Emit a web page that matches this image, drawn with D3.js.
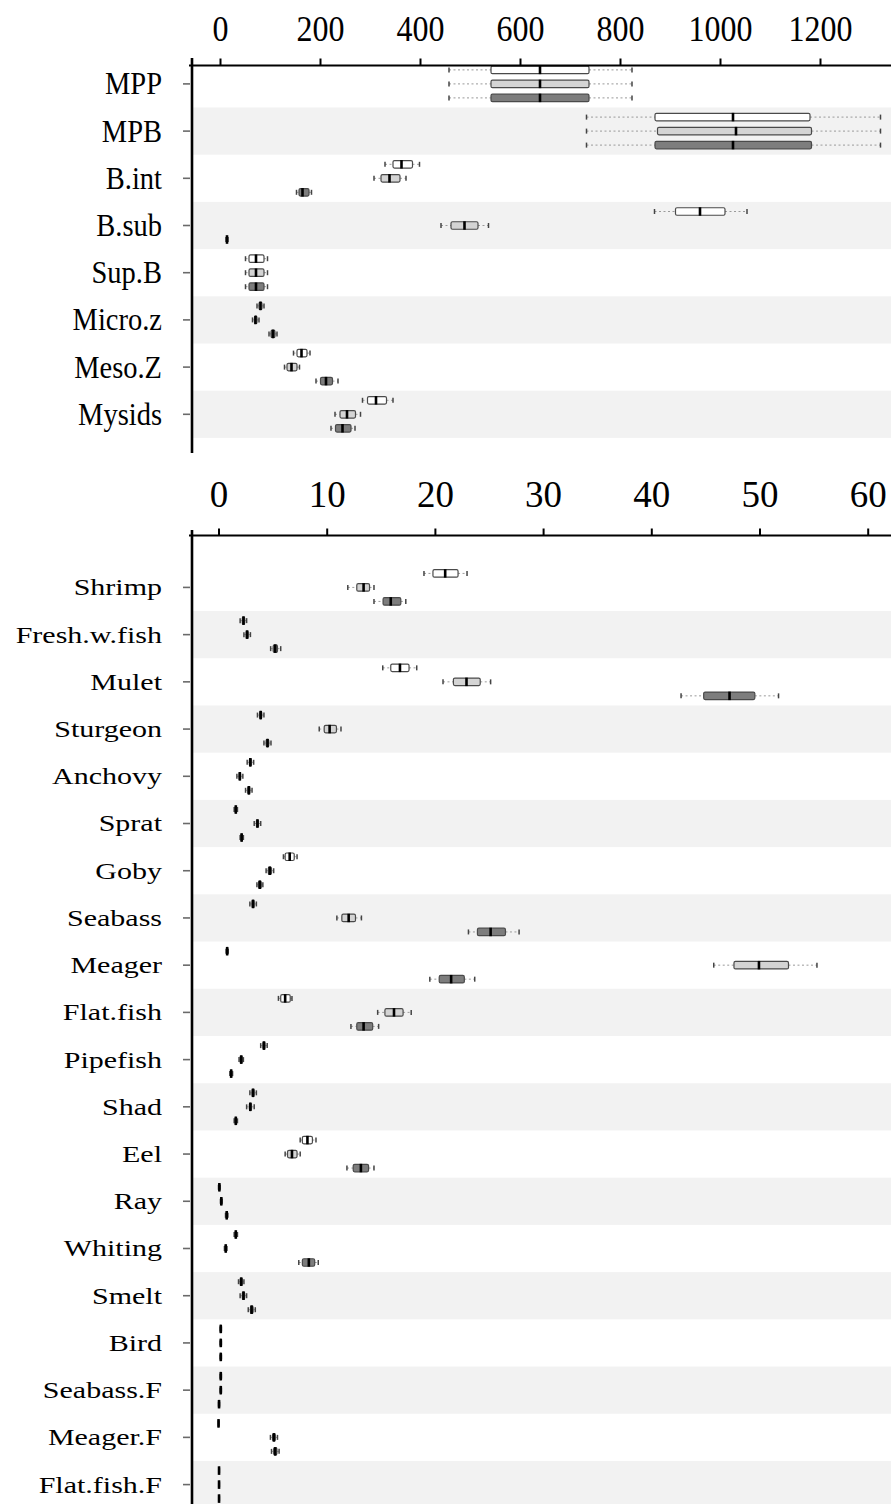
<!DOCTYPE html>
<html>
<head>
<meta charset="utf-8">
<script src="https://cdn.jsdelivr.net/npm/d3@7"></script>
<style>
  html, body { margin: 0; padding: 0; background: #fff; }
  text { font-family: "Liberation Serif", "Times New Roman", serif; fill: #000; }
</style>
</head>
<body>
<script>
// ---------------- DATA ----------------
const topCategories = ["MPP","MPB","B.int","B.sub","Sup.B","Micro.z","Meso.Z","Mysids"];
const topTicks = [0,200,400,600,800,1000,1200];
// each entry: [whisker low, q1, median, q3, whisker high]
const topSeries1 = [[458,542,640,738,824],[733,870,1026,1180,1321],[330,346,363,385,399],[869,911,960,1010,1054],[51,58,72,88,95],[74,78,81,84,88],[147,154,163,174,180],[285,295,312,333,346]];
const topSeries2 = [[458,542,640,738,824],[733,875,1032,1183,1321],[308,322,339,360,372],[442,462,489,516,537],[51,58,72,88,95],[65,69,71,74,78],[129,134,143,154,159],[230,240,254,271,281]];
const topSeries3 = [[458,542,640,738,824],[733,870,1026,1183,1321],[153,158,165,178,183],[12,13,14,15,16],[51,58,72,88,95],[98,102,106,110,114],[192,201,212,225,236],[222,231,245,262,270]];

const botCategories = ["Shrimp","Fresh.w.fish","Mulet","Sturgeon","Anchovy","Sprat","Goby","Seabass","Meager","Flat.fish","Pipefish","Shad","Eel","Ray","Whiting","Smelt","Bird","Seabass.F","Meager.F","Flat.fish.F"];
const botTicks = [0,10,20,30,40,50,60];
const botSeries1 = [[18.99,19.82,20.95,22.14,22.97],[2.0,2.2,2.31,2.42,2.6],[15.18,15.92,16.77,17.61,18.32],[3.6,3.8,3.9,4.0,4.2],[2.65,2.85,2.94,3.05,3.25],[1.45,1.55,1.6,1.65,1.75],[6.0,6.16,6.58,7.0,7.26],[2.9,3.1,3.19,3.3,3.5],[0.7,0.75,0.8,0.85,0.9],[5.54,5.75,6.16,6.63,6.79],[3.9,4.1,4.2,4.3,4.5],[2.9,3.1,3.19,3.3,3.5],[7.55,7.75,8.22,8.68,9.01],[0.0,0.05,0.08,0.11,0.16],[1.45,1.55,1.6,1.65,1.75],[1.85,2.0,2.1,2.2,2.35],[0.15,0.18,0.21,0.24,0.27],[0.15,0.18,0.21,0.24,0.27],[0,0,0,0.02,0.03],[0.02,0.04,0.05,0.06,0.08]];
const botSeries2 = [[11.95,12.78,13.41,13.96,14.37],[2.35,2.55,2.64,2.75,2.95],[20.75,21.71,22.92,24.19,25.15],[9.31,9.77,10.27,10.9,11.32],[1.7,1.9,1.97,2.05,2.25],[3.3,3.5,3.6,3.7,3.9],[4.4,4.6,4.74,4.9,5.1],[10.94,11.4,12.03,12.66,13.21],[45.77,47.64,49.95,52.68,55.31],[14.71,15.38,16.22,17.06,17.81],[1.9,2.0,2.1,2.2,2.3],[2.6,2.85,2.94,3.05,3.3],[6.16,6.38,6.79,7.26,7.55],[0.18,0.22,0.26,0.3,0.34],[0.55,0.62,0.67,0.72,0.78],[2.0,2.2,2.31,2.42,2.6],[0.15,0.18,0.21,0.24,0.27],[0.15,0.18,0.21,0.24,0.27],[4.8,5.0,5.12,5.25,5.45],[0.02,0.04,0.05,0.06,0.08]];
const botSeries3 = [[14.37,15.21,15.92,16.85,17.31],[4.82,5.05,5.24,5.45,5.75],[42.75,44.84,47.23,49.57,51.76],[4.2,4.4,4.53,4.65,4.85],[2.5,2.7,2.81,2.9,3.1],[2.0,2.07,2.14,2.2,2.3],[3.55,3.7,3.82,3.95,4.1],[23.1,23.93,25.15,26.52,27.78],[19.53,20.4,21.5,22.72,23.68],[12.24,12.78,13.41,14.25,14.8],[1.05,1.12,1.17,1.22,1.3],[1.45,1.55,1.6,1.65,1.75],[11.87,12.45,13.16,13.87,14.37],[0.65,0.72,0.76,0.8,0.87],[7.42,7.75,8.35,8.89,9.22],[2.75,2.95,3.06,3.2,3.4],[0.15,0.18,0.21,0.24,0.27],[0.0,0.03,0.05,0.07,0.1],[4.9,5.1,5.24,5.4,5.6],[0.02,0.04,0.05,0.06,0.08]];

const seriesNames = ["s1","s2","s3"];
const seriesFill = {s1:"#ffffff", s2:"#d4d4d4", s3:"#7d7d7d"};

// ---------------- SVG ----------------
const W = 891, H = 1504;
const svg = d3.select("body").append("svg").attr("width", W).attr("height", H);
svg.append("rect").attr("width", W).attr("height", H).attr("fill", "#fff");

const axisX = 192;      // vertical axis position
const rowOff = d3.scalePoint().domain(seriesNames).range([-14, 14]);

function drawPanel(cfg) {
  const {cats, s1, s2, s3, x, ticks, bandTop, step, axisY, axisTopY, axisBottomY,
         tickFont, tickScaleY, tickBaseline, labFont, labScaleX, labScaleY} = cfg;
  const y = d3.scaleBand().domain(cats).range([bandTop, bandTop + step * cats.length]).padding(0);
  const g = svg.append("g");

  // alternating bands
  g.selectAll("rect.band").data(cats.filter((c, i) => i % 2 === 1)).join("rect")
    .attr("class", "band")
    .attr("x", axisX + 1).attr("width", W - axisX - 1)
    .attr("y", d => y(d)).attr("height", y.bandwidth())
    .attr("fill", "#f2f2f2");

  // boxes
  const items = [];
  cats.forEach((c, i) => {
    [s1, s2, s3].forEach((s, k) => {
      const v = s[i];
      items.push({cat: c, ser: seriesNames[k], lo: v[0], q1: v[1], med: v[2], q3: v[3], hi: v[4]});
    });
  });
  const bh = 7.5;
  const bx = g.selectAll("g.box").data(items).join("g")
    .attr("class", "box")
    .attr("transform", d => `translate(0,${y(d.cat) + y.bandwidth() / 2 + rowOff(d.ser)})`);
  bx.append("line").attr("x1", d => x(d.lo)).attr("x2", d => x(d.q1))
    .attr("stroke", "#9a9a9a").attr("stroke-width", 1).attr("stroke-dasharray", "2,2.5");
  bx.append("line").attr("x1", d => x(d.q3)).attr("x2", d => x(d.hi))
    .attr("stroke", "#9a9a9a").attr("stroke-width", 1).attr("stroke-dasharray", "2,2.5");
  bx.append("line").attr("x1", d => x(d.lo)).attr("x2", d => x(d.lo))
    .attr("y1", -2.5).attr("y2", 2.5).attr("stroke", "#444").attr("stroke-width", 1.5);
  bx.append("line").attr("x1", d => x(d.hi)).attr("x2", d => x(d.hi))
    .attr("y1", -2.5).attr("y2", 2.5).attr("stroke", "#444").attr("stroke-width", 1.5);
  bx.append("rect").attr("x", d => x(d.q1)).attr("width", d => Math.max(0.5, x(d.q3) - x(d.q1)))
    .attr("y", -bh / 2).attr("height", bh)
    .attr("rx", 1.5)
    .attr("fill", d => seriesFill[d.ser]).attr("stroke", "#4a4a4a").attr("stroke-width", 1.2);
  bx.append("line").attr("x1", d => x(d.med)).attr("x2", d => x(d.med))
    .attr("y1", -bh / 2 - 0.5).attr("y2", bh / 2 + 0.5).attr("stroke", "#000").attr("stroke-width", 2.6);

  // top value axis
  const ax = g.append("g").attr("transform", `translate(0,${axisY})`)
    .call(d3.axisTop(x).tickValues(ticks).tickSize(7).tickSizeOuter(0).tickFormat(d3.format("d")));
  ax.select(".domain").remove();
  ax.selectAll(".tick line").attr("stroke", "#000").attr("stroke-width", 2);
  ax.selectAll(".tick text")
    .attr("y", 0).attr("dy", 0)
    .attr("transform", `translate(0,${tickBaseline - axisY}) scale(1,${tickScaleY})`)
    .style("font-size", tickFont + "px")
    .style("font-family", '"Liberation Serif", "Times New Roman", serif')
    .attr("fill", "#000");
  g.append("line").attr("x1", axisX - 3).attr("x2", W).attr("y1", axisY).attr("y2", axisY)
    .attr("stroke", "#000").attr("stroke-width", 2.2);

  // left category axis
  const ay = g.append("g").attr("transform", `translate(${axisX - 1},0)`)
    .call(d3.axisLeft(y).tickSize(8).tickPadding(20).tickSizeOuter(0));
  ay.select(".domain").remove();
  ay.selectAll(".tick line").attr("stroke", "#6a6a6a").attr("stroke-width", 1.6).attr("x2", -8).attr("x1", -1);
  ay.selectAll(".tick text")
    .attr("x", 0).attr("dy", 0)
    .attr("transform", `translate(-29,0) scale(${labScaleX},${labScaleY})`)
    .attr("dominant-baseline", "central")
    .style("font-size", labFont + "px")
    .style("font-family", '"Liberation Serif", "Times New Roman", serif')
    .attr("fill", "#000");
  g.append("line").attr("x1", axisX).attr("x2", axisX).attr("y1", axisTopY).attr("y2", axisBottomY)
    .attr("stroke", "#000").attr("stroke-width", 2.6);
}

const xTop = d3.scaleLinear().domain([0, 1200]).range([220, 820]);
drawPanel({
  cats: topCategories, s1: topSeries1, s2: topSeries2, s3: topSeries3, x: xTop, ticks: topTicks,
  bandTop: 60.3, step: 47.2, axisY: 65.5, axisTopY: 58, axisBottomY: 453,
  tickFont: 32, tickScaleY: 1.15, tickBaseline: 41, labFont: 28.5, labScaleX: 1.0, labScaleY: 1.12
});

const xBot = d3.scaleLinear().domain([0, 60]).range([218.5, 867.7]);
drawPanel({
  cats: botCategories, s1: botSeries1, s2: botSeries2, s3: botSeries3, x: xBot, ticks: botTicks,
  bandTop: 563.8, step: 47.22, axisY: 535.5, axisTopY: 530, axisBottomY: H,
  tickFont: 37, tickScaleY: 1.05, tickBaseline: 507, labFont: 24, labScaleX: 1.25, labScaleY: 1.0
});
</script>
</body>
</html>
